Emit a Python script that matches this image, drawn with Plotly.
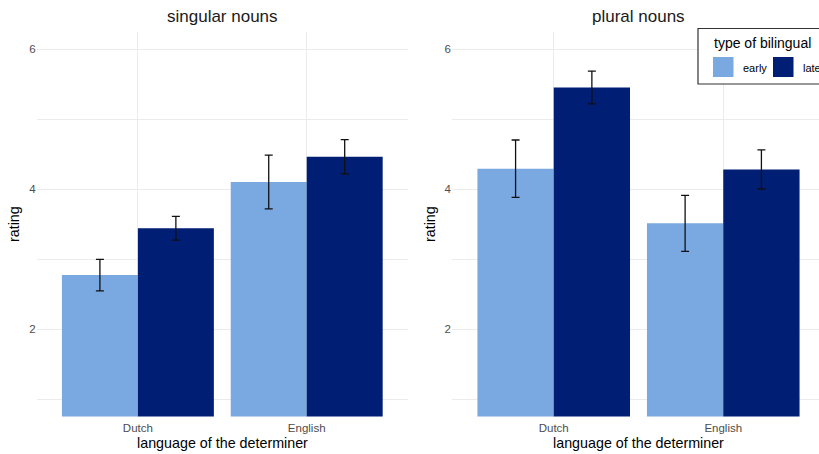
import plotly.graph_objects as go

categories = ["Dutch", "English"]
groups = ["early", "late"]
panels = ["singular nouns", "plural nouns"]

singular_early = [2.77, 4.10]
singular_early_err = [0.225, 0.385]
singular_late = [3.44, 4.46]
singular_late_err = [0.17, 0.245]

plural_early = [4.29, 3.51]
plural_early_err = [0.41, 0.40]
plural_late = [5.45, 4.28]
plural_late_err = [0.235, 0.28]

colors = {"early": "#7AA8E1", "late": "#001E73"}

W, H = 819, 454
FONT = "Liberation Sans, Arial, sans-serif"


def px(x):
    return x / W


def py(y):
    return (H - y) / H


fig = go.Figure()

data = [
    ("x", "y", singular_early, singular_early_err, singular_late, singular_late_err),
    ("x2", "y2", plural_early, plural_early_err, plural_late, plural_late_err),
]
for xa, ya, e, ee, l, le in data:
    for name, vals, errs in (("early", e, ee), ("late", l, le)):
        fig.add_trace(go.Bar(
            x=categories, y=vals, name=name, xaxis=xa, yaxis=ya,
            marker=dict(color=colors[name], line=dict(width=0)),
            error_y=dict(type="data", array=errs, visible=True,
                         color="#111111", thickness=1.3, width=4),
            showlegend=False, offsetgroup=name,
        ))

ydom = [py(416.5), py(31.5)]
grid = "#EBEBEB"
yax = dict(range=[0.75, 6.25], domain=ydom, tickmode="linear", tick0=2, dtick=2,
           showgrid=True, gridcolor=grid, gridwidth=1.1, zeroline=False,
           showline=False, ticks="", ticklen=0,
           tickfont=dict(family=FONT, size=11.5, color="#4D4D4D"),
           minor=dict(tick0=1, dtick=2, showgrid=True, gridcolor=grid, gridwidth=0.6))
xax = dict(type="category", showgrid=True, gridcolor=grid, gridwidth=1.1,
           zeroline=False, showline=False, ticks="", ticklabelstandoff=3,
           tickfont=dict(family=FONT, size=11.5, color="#4D4D4D"))

fig.update_layout(
    width=W, height=H,
    margin=dict(l=0, r=0, t=0, b=0, autoexpand=False),
    paper_bgcolor="white", plot_bgcolor="white",
    barmode="group", bargap=0.1, bargroupgap=0,
    showlegend=False,
    xaxis=dict(xax, domain=[px(36.6), px(408)], range=[-0.6, 1.6], anchor="y"),
    yaxis=dict(yax, anchor="x"),
    xaxis2=dict(xax, domain=[px(452), 1.0], range=[-0.6, 1.6 - 6 / 170], anchor="y2"),
    yaxis2=dict(yax, anchor="x2"),
)

ann = []
# facet titles
for title, cx in zip(panels, [(36.6 + 408) / 2, (452 + 825) / 2]):
    ann.append(dict(text=title, x=px(cx), y=py(16), xref="paper", yref="paper",
                    showarrow=False, xanchor="center", yanchor="middle",
                    font=dict(family=FONT, size=17, color="#1A1A1A")))
# axis titles
for cx in [(36.6 + 408) / 2, (452 + 825) / 2]:
    ann.append(dict(text="language of the determiner", x=px(cx), y=py(443),
                    xref="paper", yref="paper", showarrow=False,
                    xanchor="center", yanchor="middle",
                    font=dict(family=FONT, size=14.3, color="#000000")))
for cx in [14, 430]:
    ann.append(dict(text="rating", x=px(cx), y=py(224), textangle=-90,
                    xref="paper", yref="paper", showarrow=False,
                    xanchor="center", yanchor="middle",
                    font=dict(family=FONT, size=14.3, color="#000000")))

# legend (drawn manually to mirror the ggplot legend box)
shapes = [dict(type="rect", xref="paper", yref="paper",
               x0=px(698), x1=px(830), y0=py(84), y1=py(28.5),
               line=dict(color="#333333", width=1.2), fillcolor="white", layer="above")]
ann.append(dict(text="type of bilingual", x=px(712), y=py(43), xref="paper", yref="paper",
                showarrow=False, xanchor="left", yanchor="middle",
                font=dict(family=FONT, size=14, color="#000000")))
for g, x0 in zip(groups, [713, 773]):
    shapes.append(dict(type="rect", xref="paper", yref="paper",
                       x0=px(x0), x1=px(x0 + 20.5), y0=py(77), y1=py(57),
                       line=dict(width=0), fillcolor=colors[g], layer="above"))
    ann.append(dict(text=g, x=px(x0 + 28), y=py(67.5), xref="paper", yref="paper",
                    showarrow=False, xanchor="left", yanchor="middle",
                    font=dict(family=FONT, size=11, color="#000000")))

fig.update_layout(annotations=ann, shapes=shapes)
fig.write_html("out.html")
